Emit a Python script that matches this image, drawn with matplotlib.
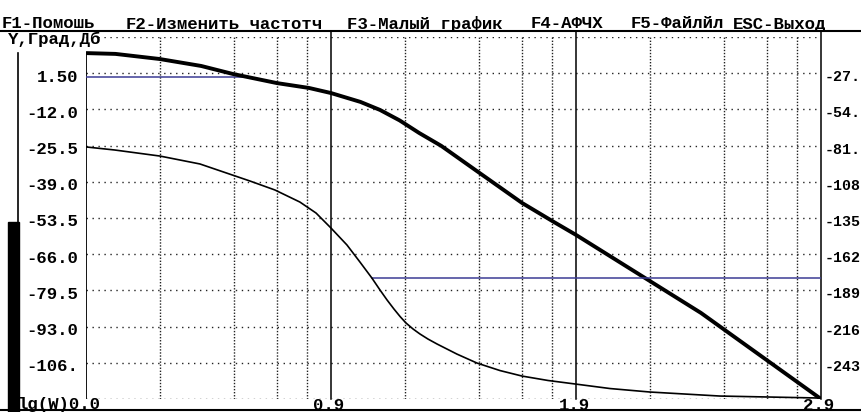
import numpy as np
from matplotlib import pyplot as plt
from matplotlib.patches import Rectangle
from matplotlib.lines import Line2D
from matplotlib.transforms import ScaledTranslation

# ЛАЧХ (дБ) и ФЧХ (град) по lg(W)
lg_mag = [0.0, 0.12, 0.30, 0.47, 0.60, 0.78, 0.91, 1.00, 1.12, 1.20, 1.28, 1.36, 1.45, 1.60,
          1.78, 1.91, 2.00, 2.51, 3.00]
mag_db = [9.0, 8.7, 6.8, 4.2, 1.2, -2.2, -4.0, -5.9, -9.2, -12.2, -16.1, -20.8, -25.6, -35.3,
          -46.9, -54.0, -58.8, -87.9, -120.0]

lg_ph = [0.0, 0.118, 0.302, 0.465, 0.669, 0.771, 0.873, 0.939, 1.0, 1.065, 1.118, 1.167, 1.2,
         1.229, 1.257, 1.282, 1.306, 1.335, 1.363, 1.396, 1.433, 1.514, 1.596, 1.69, 1.78,
         1.886, 1.996, 2.139, 2.302, 2.588, 3.0]
ph_deg = [-82.0, -84.3, -88.8, -94.7, -107.4, -114.1, -123.1, -131.3, -142.5, -155.1, -167.8,
          -179.8, -188.7, -196.2, -202.9, -208.5, -213.3, -217.8, -221.5, -225.3, -229.0,
          -236.5, -243.2, -248.8, -252.9, -256.2, -258.8, -262.2, -264.8, -267.8, -269.3]

mag_levels = [15 - 13.5 * k for k in range(11)]
mag_labels = ["1.50", "-12.0", "-25.5", "-39.0", "-53.5", "-66.0", "-79.5", "-93.0", "-106."]
ph_levels = [-27.0 * k for k in range(1, 10)]
ph_labels = ["-27.", "-54.", "-81.", "-108", "-135", "-162", "-189", "-216", "-243"]
x_decades = [1, 2, 3]
x_labels = ["0.9", "1.9", "2.9"]

menu = [(2, "F1-Помошь"), (126, "F2-Изменить_частотч"), (347, "F3-Малый график"),
        (531, "F4-АФЧХ"), (631, "F5-Файлйл"), (733, "ESC-Выход")]

W, H = 862, 412
font = dict(family="Liberation Mono", weight="bold", size=12.5, color="black")
dots_h = (0, (1, 3.3))
dots_v = (0, (1, 1.2))

fig = plt.figure(figsize=(W / 100, H / 100), dpi=100)
fig.patch.set_facecolor("white")
ax = fig.add_axes([86 / W, 1 - 399 / H, 735 / W, 362 / H])
ax.set_xlim(0, 3)
ax.set_ylim(-120, 15)
for s in ax.spines.values():
    s.set_visible(False)
ax.set_xticks([])
ax.set_yticks([])

ax2 = ax.twinx()
ax2.set_ylim(-270, 0)
for s in ax2.spines.values():
    s.set_visible(False)
ax2.set_xticks([])
ax2.set_yticks([])

# сетка
for lv in mag_levels:
    ax.plot([0, 3], [lv, lv], color="#222222", lw=1.0, linestyle=dots_h, zorder=1)
for dec in range(3):
    for m in [2, 4, 6, 8]:
        xv = dec + np.log10(m)
        ax.plot([xv, xv], [-120, 15], color="#222222", lw=1.0, linestyle=dots_v, zorder=1)

top_ext = 15 + 6 * 13.5 / 36.2
for xv in x_decades:
    ax.plot([xv, xv], [-120, top_ext], color="black", lw=1.1, clip_on=False, zorder=2)
ax.plot([0, 0], [-120, mag_db[0]], color="black", lw=1.3, zorder=2)

# линии 0 дБ и -180 град
wc = np.interp(0, mag_db[::-1], lg_mag[::-1])
w180 = np.interp(-180, ph_deg[::-1], lg_ph[::-1])
ax.plot([0, wc], [0, 0], color="#3c3c94", lw=1.1, zorder=3)
ax2.plot([w180, 3], [-180, -180], color="#3c3c94", lw=1.1, zorder=3)

ax2.plot(lg_ph, ph_deg, color="black", lw=1.2, zorder=4)
ax.plot(lg_mag, mag_db, color="black", lw=2.8, solid_capstyle="butt", zorder=5)

# подписи осей
down = ScaledTranslation(0, -4 / 100, fig.dpi_scale_trans)
for lv, lb in zip(mag_levels[1:10], mag_labels):
    ax.text(-8 / 735 * 3, lv, lb, ha="right", va="center", transform=ax.transData + down,
            clip_on=False, **font)
right_font = dict(font, size=10.8)
for lv, lb in zip(ph_levels, ph_labels):
    ax2.text(3 + 4 / 735 * 3, lv, lb, ha="left", va="center", transform=ax2.transData + down,
             clip_on=False, **right_font)
for xv, lb in zip(x_decades, x_labels):
    ax.text(xv - 0.008, -6 / 362, lb, ha="center", va="center",
            transform=ax.get_xaxis_transform(), clip_on=False, **font)
ax.text(14 / 245, -6 / 362, "lg(W)0.0", ha="right", va="center",
        transform=ax.get_xaxis_transform(), clip_on=False, **font)

# меню и рамка экрана
for px, txt in menu:
    fig.text(px / W, 1 - 24 / H, txt, ha="left", va="center", **font)
fig.text(8 / W, 1 - 39 / H, "Y,Град,Дб", ha="left", va="center", **font)
fig.add_artist(Line2D([0, 1], [1 - 31 / H, 1 - 31 / H], color="black", lw=1.5))
fig.add_artist(Line2D([0, 1], [1 - 410 / H, 1 - 410 / H], color="black", lw=1.5))
fig.add_artist(Line2D([18.5 / W, 18.5 / W], [1 - 222 / H, 1 - 53 / H], color="black", lw=1.2))
fig.add_artist(Rectangle((8 / W, 0), 11 / W, (412 - 222) / H, color="black",
                         transform=fig.transFigure))

fig.savefig("out.png", dpi=100)
